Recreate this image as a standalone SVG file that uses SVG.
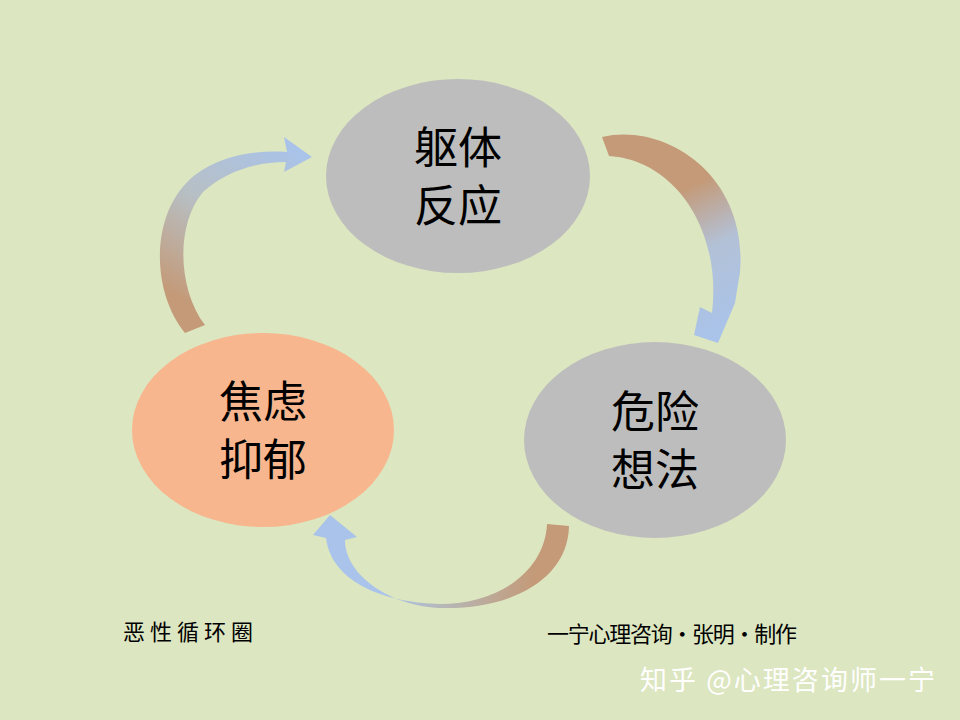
<svg xmlns="http://www.w3.org/2000/svg" width="960" height="720" viewBox="0 0 960 720">
<style>
.t{font-family:"Noto Sans CJK SC",sans-serif;font-size:44px;fill:#000;text-anchor:middle}
.s{font-family:"Noto Sans CJK SC",sans-serif;font-size:22px;fill:#000}
</style>
<defs>
<linearGradient id="g1" gradientUnits="userSpaceOnUse" x1="640" y1="140" x2="730" y2="330"><stop offset="0.3" stop-color="#c49a78"/><stop offset="0.6" stop-color="#b3c1d6"/><stop offset="1" stop-color="#a9c3ea"/></linearGradient>
<linearGradient id="g2" gradientUnits="userSpaceOnUse" x1="560" y1="540" x2="330" y2="530"><stop offset="0.1" stop-color="#c49a78"/><stop offset="0.5" stop-color="#b5b8b8"/><stop offset="0.75" stop-color="#a9c3ea"/></linearGradient>
<linearGradient id="g3" gradientUnits="userSpaceOnUse" x1="190" y1="330" x2="300" y2="150"><stop offset="0.1" stop-color="#c49a78"/><stop offset="0.55" stop-color="#b7bfc4"/><stop offset="1" stop-color="#a9c3ea"/></linearGradient>
</defs>
<rect width="960" height="720" fill="#dce6c0"/>
<g id="connectors">
<path d="M602,137 C665,122 748,175 740,272 L735,303 L718,343 L694,335 L700,307 L712,313 C722,230 675,160 609,156 Z" fill="url(#g1)"/>
<path d="M547,524 L569,526 C568,580 510,610 440,608 C390,606 345,575 345,540 L357,537 L330,515 L313,535 L326,538 C332,585 390,603 440,604 C500,604 545,570 547,524 Z" fill="url(#g2)"/>
<path d="M185,333 C150,290 150,210 195,175 C222,155 255,150 287,152 L284,137 L312,157 L284,172 L286,162 C255,162 225,172 203,192 C175,225 178,290 205,325 Z" fill="url(#g3)"/>
</g>
<g id="n1"><ellipse cx="458" cy="176" rx="132" ry="97" fill="#bdbdbd"/><text class="t" x="458" y="164">躯体</text><text class="t" x="458" y="222">反应</text></g>
<g id="n2"><ellipse cx="655" cy="440" rx="131" ry="98" fill="#bdbdbd"/><text class="t" x="655" y="428">危险</text><text class="t" x="655" y="486">想法</text></g>
<g id="n3"><ellipse cx="263" cy="430" rx="131" ry="97" fill="#f7b68e"/><text class="t" x="263" y="418">焦虑</text><text class="t" x="263" y="476">抑郁</text></g>
<text class="s" x="123" y="640" textLength="130">恶性循环圈</text>
<text class="s" x="547" y="642" textLength="250">一宁心理咨询·张明·制作</text>
<text x="640" y="690" textLength="295" style="font-family:'Noto Sans CJK SC',sans-serif;font-size:27px;fill:#fff">知乎 @心理咨询师一宁</text>
</svg>
